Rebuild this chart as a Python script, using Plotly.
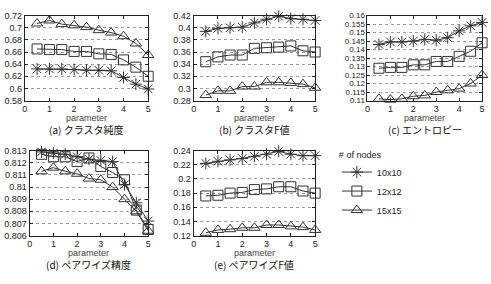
import plotly.graph_objects as go

x = [0.5, 1, 1.5, 2, 2.5, 3, 3.5, 4, 4.5, 5]
series_names = ["10x10", "12x12", "15x15"]

purity_10 = [0.632, 0.632, 0.632, 0.631, 0.630, 0.630, 0.629, 0.618, 0.607, 0.599]
purity_12 = [0.665, 0.664, 0.664, 0.661, 0.661, 0.657, 0.656, 0.647, 0.635, 0.620]
purity_15 = [0.707, 0.712, 0.706, 0.704, 0.701, 0.696, 0.692, 0.686, 0.674, 0.655]

clf_10 = [0.394, 0.399, 0.400, 0.401, 0.408, 0.414, 0.419, 0.415, 0.414, 0.412]
clf_12 = [0.344, 0.352, 0.355, 0.355, 0.366, 0.367, 0.368, 0.370, 0.362, 0.360]
clf_15 = [0.289, 0.296, 0.296, 0.303, 0.303, 0.310, 0.310, 0.309, 0.307, 0.301]

ent_10 = [0.143, 0.1445, 0.1445, 0.145, 0.146, 0.1455, 0.147, 0.151, 0.154, 0.156]
ent_12 = [0.129, 0.1295, 0.1295, 0.131, 0.131, 0.133, 0.133, 0.136, 0.139, 0.144]
ent_15 = [0.111, 0.1105, 0.111, 0.1125, 0.113, 0.115, 0.116, 0.117, 0.120, 0.125]

pp_10 = [0.8129, 0.8128, 0.8127, 0.8125, 0.8123, 0.8122, 0.8121, 0.8102, 0.8087, 0.8072]
pp_12 = [0.8127, 0.8125, 0.8125, 0.8121, 0.8124, 0.8117, 0.8112, 0.8106, 0.8081, 0.8065]
pp_15 = [0.8113, 0.8116, 0.8113, 0.8111, 0.8107, 0.8106, 0.8100, 0.8090, 0.8080, 0.8064]

pf_10 = [0.222, 0.225, 0.227, 0.229, 0.232, 0.235, 0.239, 0.235, 0.233, 0.233]
pf_12 = [0.176, 0.177, 0.180, 0.181, 0.185, 0.186, 0.189, 0.189, 0.183, 0.180]
pf_15 = [0.124, 0.128, 0.129, 0.131, 0.131, 0.135, 0.135, 0.133, 0.132, 0.128]

captions = ["(a) クラスタ純度", "(b) クラスタF値", "(c) エントロピー", "(d) ペアワイズ精度", "(e) ペアワイズF値"]
x_ticks = [0, 1, 2, 3, 4, 5]

panels = [
    (purity_10, purity_12, purity_15, [0.58, 0.72], 0.02, "%.2f"),
    (clf_10, clf_12, clf_15, [0.28, 0.42], 0.02, "%.2f"),
    (ent_10, ent_12, ent_15, [0.11, 0.16], 0.005, "%.3f"),
    (pp_10, pp_12, pp_15, [0.806, 0.813], 0.001, "%.3f"),
    (pf_10, pf_12, pf_15, [0.12, 0.24], 0.02, "%.2f"),
]

W, H = 491, 284
# pixel boxes (left, right, top, bottom)
boxes = [
    (22, 147, 11, 99),
    (193, 316, 11, 99),
    (369, 485, 11, 99),
    (27, 147, 151, 239),
    (193, 316, 151, 239),
]

symbols = ["asterisk-open", "square-open", "triangle-up-open"]
sizes = [10, 10, 10]

fig = go.Figure()
font = dict(family="Liberation Sans, Arial, sans-serif", size=9, color="#222")

def fmt_label(v, f):
    s = f % v
    s = s.rstrip("0").rstrip(".") if "." in s else s
    return s

for i, (a, b, c, yr, dt, f) in enumerate(panels):
    n = i + 1
    xa = "x" if n == 1 else f"x{n}"
    ya = "y" if n == 1 else f"y{n}"
    for k, data in enumerate([a, b, c]):
        fig.add_trace(go.Scatter(
            x=x, y=data, xaxis=xa, yaxis=ya, mode="lines+markers",
            name=series_names[k], showlegend=(n == 1),
            line=dict(color="#333", width=1),
            marker=dict(symbol=symbols[k], size=sizes[k], color="#333",
                        line=dict(color="#333", width=1)),
            cliponaxis=False,
        ))
    l, r, t, bt = boxes[i]
    nticks = int(round((yr[1] - yr[0]) / dt))
    tv = [yr[0] + j * dt for j in range(nticks + 1)]
    tt = [fmt_label(v, f) for v in tv]
    yfont = dict(font, size=8) if nticks > 8 else font
    fig.layout[f"xaxis{n if n > 1 else ''}"] = dict(
        domain=[l / W, r / W], anchor=ya, range=[0, 5], tickvals=x_ticks,
        showgrid=False, zeroline=False, showline=True, mirror="ticks",
        linecolor="#222", linewidth=1, ticks="inside", ticklen=3, tickcolor="#222",
        tickfont=font,
    )
    fig.layout[f"yaxis{n if n > 1 else ''}"] = dict(
        domain=[1 - bt / H, 1 - t / H], anchor=xa, range=yr, tickvals=tv, ticktext=tt,
        showgrid=True, gridcolor="#999", griddash="dot", gridwidth=1, zeroline=False,
        showline=True, mirror="ticks", linecolor="#222", linewidth=1,
        ticks="inside", ticklen=3, tickcolor="#222", tickfont=yfont,
    )
    fig.add_annotation(
        x=(l + r) / 2 / W, y=1 - (bt + 18) / H, xref="paper", yref="paper",
        text="parameter", showarrow=False, yanchor="middle", xanchor="center",
        font=dict(family=font["family"], size=9, color="#444"),
    )
    fig.add_annotation(
        x=(l + r) / 2 / W, y=1 - (bt + 30) / H, xref="paper", yref="paper",
        text=captions[i], showarrow=False, yanchor="middle", xanchor="center",
        font=dict(family="Noto Sans CJK JP, sans-serif", size=10, color="#111"),
    )

fig.update_layout(
    width=W, height=H, margin=dict(l=0, r=0, t=0, b=0),
    paper_bgcolor="white", plot_bgcolor="white",
    showlegend=True,
    legend=dict(
        x=338 / W, y=1 - 146 / H, xanchor="left", yanchor="top",
        title=dict(text="# of nodes", font=dict(family=font["family"], size=9, color="#222")),
        font=dict(family=font["family"], size=9, color="#222"),
        bgcolor="rgba(0,0,0,0)", tracegroupgap=0, itemwidth=30,
    ),
)

fig.write_html("out.html")
